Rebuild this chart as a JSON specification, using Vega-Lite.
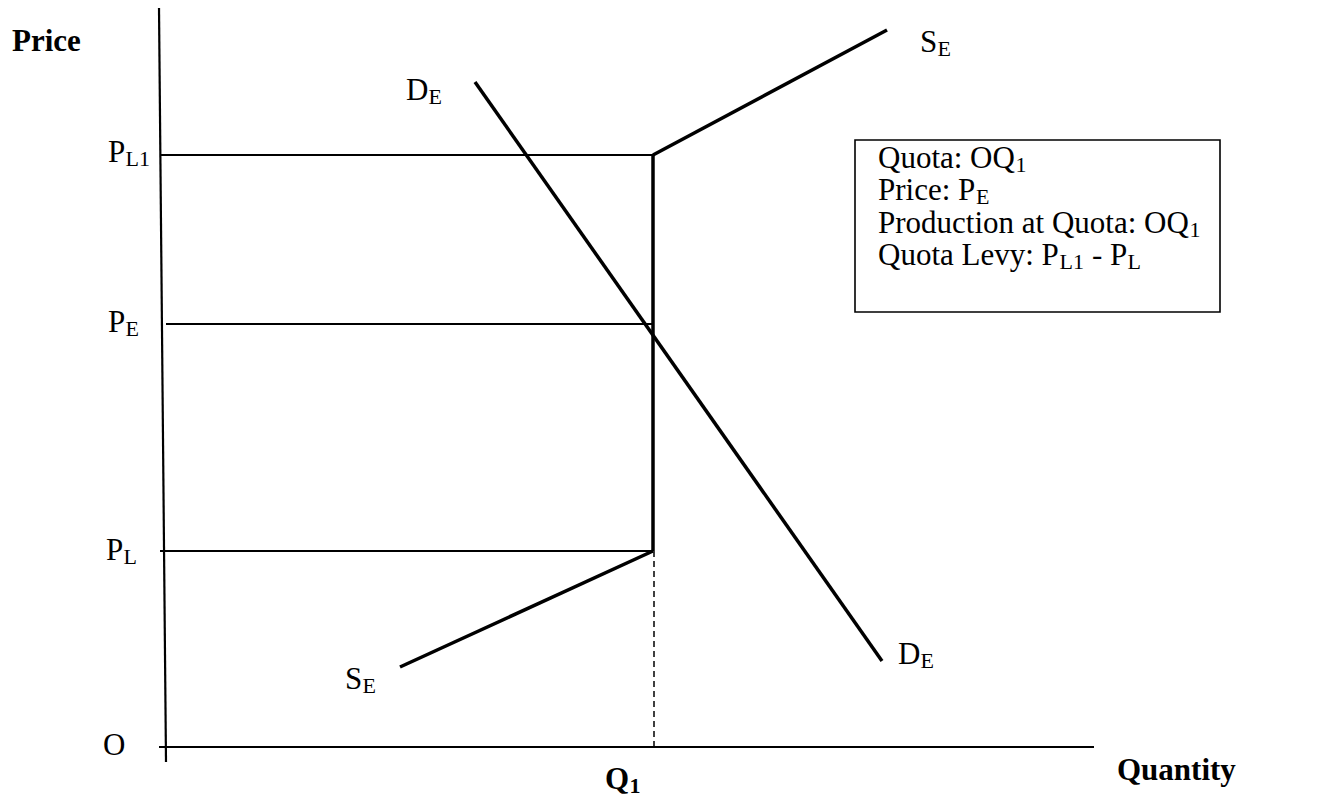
{
  "$schema": "https://vega.github.io/schema/vega-lite/v6.json",
  "width": 1317,
  "height": 798,
  "autosize": {"type": "none"},
  "padding": 0,
  "background": "white",
  "config": {"view": {"stroke": null}},
  "datasets": {
    "segments": [
      {"kind": "axis", "name": "price axis", "x": 0, "y": 73.9, "x2": 0.7, "y2": -1.5},
      {"kind": "axis", "name": "quantity axis", "x": 0, "y": 0, "x2": 93.5, "y2": 0},
      {"kind": "guide", "name": "PL1", "x": 0.2, "y": 59.2, "x2": 49.4, "y2": 59.2},
      {"kind": "guide", "name": "PE", "x": 0.7, "y": 42.3, "x2": 49.4, "y2": 42.3},
      {"kind": "guide", "name": "PL", "x": 0.1, "y": 19.6, "x2": 49.4, "y2": 19.6},
      {"kind": "curve", "name": "quota", "x": 49.4, "y": 59.2, "x2": 49.4, "y2": 19.6},
      {"kind": "curve", "name": "supply lower", "x": 24.1, "y": 8.0, "x2": 49.4, "y2": 19.6},
      {"kind": "curve", "name": "supply upper", "x": 49.4, "y": 59.2, "x2": 72.8, "y2": 71.7},
      {"kind": "curve", "name": "demand", "x": 31.6, "y": 66.5, "x2": 72.3, "y2": 8.6},
      {"kind": "dashed", "name": "Q1 drop", "x": 49.5, "y": 19.6, "x2": 49.5, "y2": 0}
    ],
    "box": [
      {"x": 69.6, "x2": 106.1, "y": 60.7, "y2": 43.5}
    ],
    "labels": [
      {"role": "bold", "text": "Price", "x": -14.7, "y": 69.6},
      {"role": "main", "text": "P", "x": -5.1, "y": 58.5},
      {"role": "sub", "text": "L1", "x": -3.35, "y": 58.1},
      {"role": "main", "text": "P", "x": -5.1, "y": 41.5},
      {"role": "sub", "text": "E", "x": -3.35, "y": 41.1},
      {"role": "main", "text": "P", "x": -5.3, "y": 18.7},
      {"role": "sub", "text": "L", "x": -3.55, "y": 18.3},
      {"role": "main", "text": "O", "x": -5.6, "y": -0.8},
      {"role": "bold", "text": "Q", "x": 44.6, "y": -4.2},
      {"role": "boldsub", "text": "1", "x": 47.05, "y": -4.6},
      {"role": "bold", "text": "Quantity", "x": 95.8, "y": -3.3},
      {"role": "main", "text": "S", "x": 18.6, "y": 5.8},
      {"role": "sub", "text": "E", "x": 20.35, "y": 5.4},
      {"role": "main", "text": "D", "x": 24.7, "y": 64.7},
      {"role": "sub", "text": "E", "x": 26.95, "y": 64.3},
      {"role": "main", "text": "S", "x": 76.1, "y": 69.5},
      {"role": "sub", "text": "E", "x": 77.85, "y": 69.1},
      {"role": "main", "text": "D", "x": 73.9, "y": 8.3},
      {"role": "sub", "text": "E", "x": 76.15, "y": 7.9},
      {"role": "main", "text": "Quota: OQ", "x": 71.9, "y": 57.9},
      {"role": "sub", "text": "1", "x": 85.65, "y": 57.5},
      {"role": "main", "text": "Price: P", "x": 71.9, "y": 54.7},
      {"role": "sub", "text": "E", "x": 81.7, "y": 54.3},
      {"role": "main", "text": "Production at Quota: OQ", "x": 71.9, "y": 51.4},
      {"role": "sub", "text": "1", "x": 103.05, "y": 51.0},
      {"role": "main", "text": "Quota Levy: P", "x": 71.9, "y": 48.2},
      {"role": "sub", "text": "L1", "x": 90.05, "y": 47.8},
      {"role": "main", "text": "- P", "x": 93.3, "y": 48.2},
      {"role": "sub", "text": "L", "x": 96.85, "y": 47.8}
    ]
  },
  "encoding": {
    "x": {"field": "x", "type": "quantitative", "scale": {"domain": [-15.9, 115.8], "nice": false, "zero": false}, "axis": null},
    "y": {"field": "y", "type": "quantitative", "scale": {"domain": [-5.1, 74.7], "nice": false, "zero": false}, "axis": null}
  },
  "layer": [
    {
      "data": {"name": "segments"},
      "transform": [{"filter": "datum.kind === 'axis'"}],
      "mark": {"type": "rule", "color": "black", "strokeWidth": 2.2},
      "encoding": {"x2": {"field": "x2"}, "y2": {"field": "y2"}}
    },
    {
      "data": {"name": "segments"},
      "transform": [{"filter": "datum.kind === 'guide'"}],
      "mark": {"type": "rule", "color": "black", "strokeWidth": 1.8},
      "encoding": {"x2": {"field": "x2"}, "y2": {"field": "y2"}}
    },
    {
      "data": {"name": "segments"},
      "transform": [{"filter": "datum.kind === 'dashed'"}],
      "mark": {"type": "rule", "color": "black", "strokeWidth": 1.5, "strokeDash": [6, 4]},
      "encoding": {"x2": {"field": "x2"}, "y2": {"field": "y2"}}
    },
    {
      "data": {"name": "segments"},
      "transform": [{"filter": "datum.kind === 'curve'"}],
      "mark": {"type": "rule", "color": "black", "strokeWidth": 3.5},
      "encoding": {"x2": {"field": "x2"}, "y2": {"field": "y2"}}
    },
    {
      "data": {"name": "box"},
      "mark": {"type": "rect", "fill": "white", "stroke": "black", "strokeWidth": 1.6},
      "encoding": {"x2": {"field": "x2"}, "y2": {"field": "y2"}}
    },
    {
      "data": {"name": "labels"},
      "transform": [{"filter": "datum.role === 'main'"}],
      "mark": {"type": "text", "align": "left", "baseline": "alphabetic", "font": "Liberation Serif", "fontSize": 31, "color": "black"},
      "encoding": {"text": {"field": "text"}}
    },
    {
      "data": {"name": "labels"},
      "transform": [{"filter": "datum.role === 'sub'"}],
      "mark": {"type": "text", "align": "left", "baseline": "alphabetic", "font": "Liberation Serif", "fontSize": 22, "color": "black"},
      "encoding": {"text": {"field": "text"}}
    },
    {
      "data": {"name": "labels"},
      "transform": [{"filter": "datum.role === 'bold'"}],
      "mark": {"type": "text", "align": "left", "baseline": "alphabetic", "font": "Liberation Serif", "fontSize": 31, "fontWeight": "bold", "color": "black"},
      "encoding": {"text": {"field": "text"}}
    },
    {
      "data": {"name": "labels"},
      "transform": [{"filter": "datum.role === 'boldsub'"}],
      "mark": {"type": "text", "align": "left", "baseline": "alphabetic", "font": "Liberation Serif", "fontSize": 22, "fontWeight": "bold", "color": "black"},
      "encoding": {"text": {"field": "text"}}
    }
  ]
}
